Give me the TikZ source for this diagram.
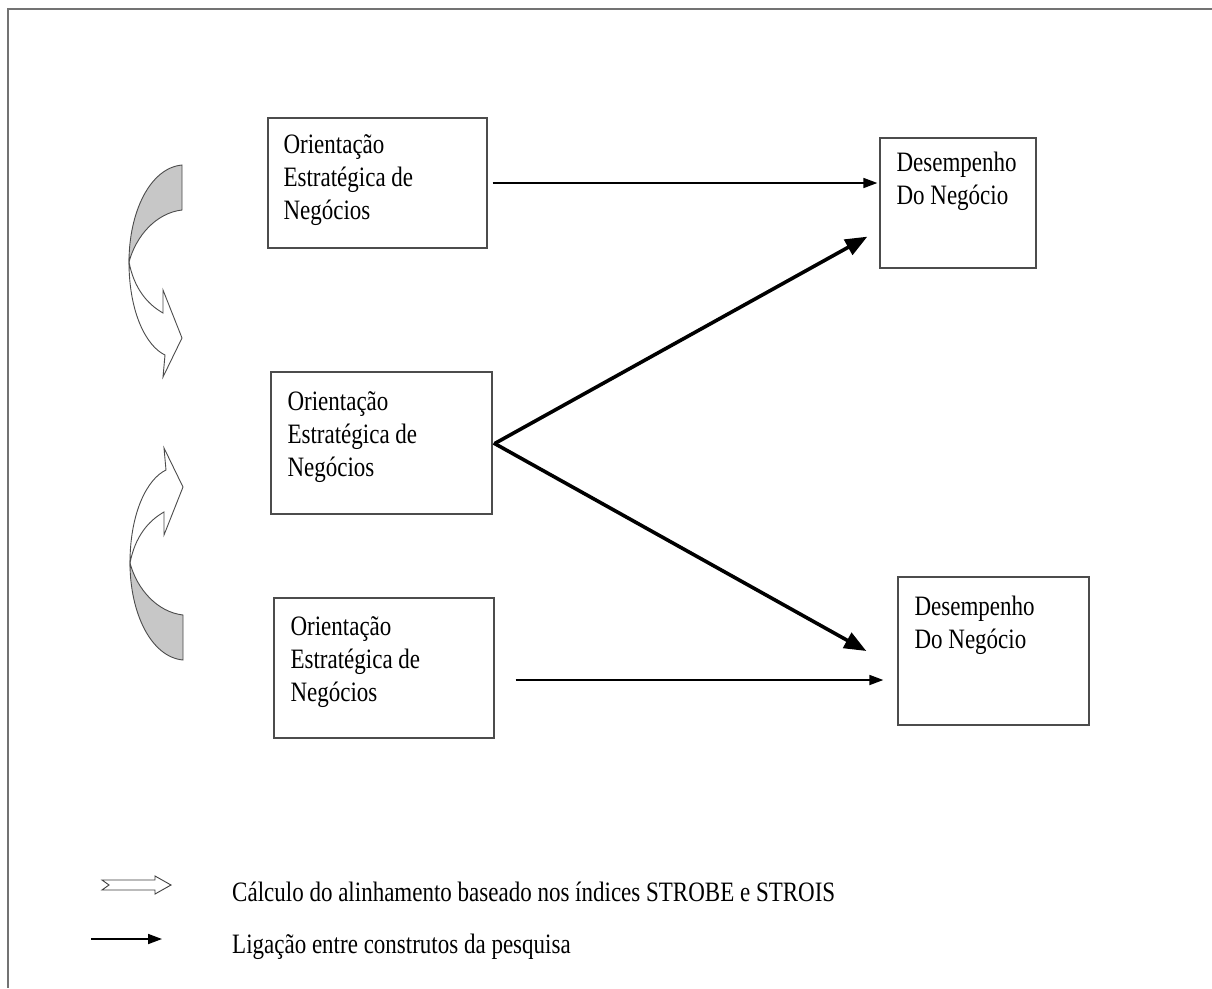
\documentclass[tikz,border=0pt]{standalone}
\usepackage{graphicx}
\usepackage{fontspec}
\setmainfont{Liberation Serif}
\usetikzlibrary{arrows.meta}

% multi-line label, slightly stretched vertically, baseline at its first line
\newcommand\labeltext[1]{\scalebox{1}[1.22]{\begin{tabular}[t]{@{}l@{}}#1\end{tabular}}}

\begin{document}
\begin{tikzpicture}[x=1pt,y=-1pt,
  frame/.style={draw=black!55, line width=2pt},
  box/.style={draw=black!70, line width=1.3pt, rectangle, inner sep=0pt},
  txt/.style={anchor=base west, inner sep=0pt, font=\fontsize{23}{27}\selectfont},
  linkthin/.style={line width=1.7pt, -{Triangle[length=14pt,width=10pt]}},
  linkthick/.style={line width=3.6pt, -{Triangle[length=22pt,width=17pt]}},
  bandback/.style={draw=black!70, line width=0.9pt, fill=black!22},
  bandfront/.style={draw=black!70, line width=0.9pt, fill=white},
]
\useasboundingbox (0,0) rectangle (1212,988);
\fill[white] (0,0) rectangle (1212,988);

% outer frame (top and left edges)
\draw[frame] (1212,9) -- (8,9) -- (8,988);

% construct boxes
\node[box, minimum width=219pt, minimum height=130pt] (b1) at (377.5,183) {};
\node[box, minimum width=221pt, minimum height=142pt] (b2) at (381.5,443) {};
\node[box, minimum width=220pt, minimum height=140pt] (b3) at (384,668) {};
\node[box, minimum width=156pt, minimum height=130pt] (b4) at (958,203) {};
\node[box, minimum width=191pt, minimum height=148pt] (b5) at (993.5,651) {};

\node[txt] (t1) at ([shift={(16,36)}]b1.north west) {\labeltext{Orientação\\Estratégica de\\Negócios}};
\node[txt] (t2) at ([shift={(17,39)}]b2.north west) {\labeltext{Orientação\\Estratégica de\\Negócios}};
\node[txt] (t3) at ([shift={(17,38)}]b3.north west) {\labeltext{Orientação\\Estratégica de\\Negócios}};
\node[txt] (t4) at ([shift={(17,34)}]b4.north west) {\labeltext{Desempenho\\Do Negócio}};
\node[txt] (t5) at ([shift={(17,39)}]b5.north west) {\labeltext{Desempenho\\Do Negócio}};

% links between constructs
\draw[linkthin] ([xshift=5pt]b1.east) -- ([xshift=-2pt]b4.west |- b1.east);
\draw[linkthick] ([xshift=3pt]b2.east) -- ([shift={(-12,-32)}]b4.south west);
\draw[linkthick] ([xshift=1pt]b2.east) -- ([xshift=-31pt]b5.west);
\draw[linkthin] ([shift={(21,12)}]b3.east) coordinate (a4s) -- ([xshift=-14pt]b5.west |- a4s);

% curved alignment arrow, upper
\draw[bandback] (182,165) .. controls (150,168) and (129,212) .. (129,262)
  .. controls (136,236) and (156,213) .. (182,210) -- cycle;
\draw[bandfront] (129,262) .. controls (129,312) and (146,346) .. (165,355)
  -- (163,377) -- (182,338) -- (163,290) -- (163,313)
  .. controls (147,304) and (134,288) .. (129,262) -- cycle;

% curved alignment arrow, lower
\draw[bandback] (183,660) .. controls (151,657) and (130,613) .. (130,563)
  .. controls (137,589) and (157,612) .. (183,615) -- cycle;
\draw[bandfront] (130,563) .. controls (130,513) and (147,479) .. (166,470)
  -- (164,448) -- (183,487) -- (164,535) -- (164,512)
  .. controls (148,521) and (135,537) .. (130,563) -- cycle;

% legend
\draw[draw=black!75, line width=0.9pt, fill=white]
  (102,880) -- (155,880) -- (155,876) -- (171,885) -- (155,894) -- (155,890)
  -- (102,890) -- (109,885) -- cycle;
\node[txt] (l1) at (232,901) {\labeltext{Cálculo do alinhamento baseado nos índices STROBE e STROIS}};

\coordinate (ls) at (91,939);
\coordinate (le) at (162,939);
\draw[linkthin] (ls) -- (le);
\node[txt] (l2) at (232,953) {\labeltext{Ligação entre construtos da pesquisa}};
\end{tikzpicture}
\end{document}
